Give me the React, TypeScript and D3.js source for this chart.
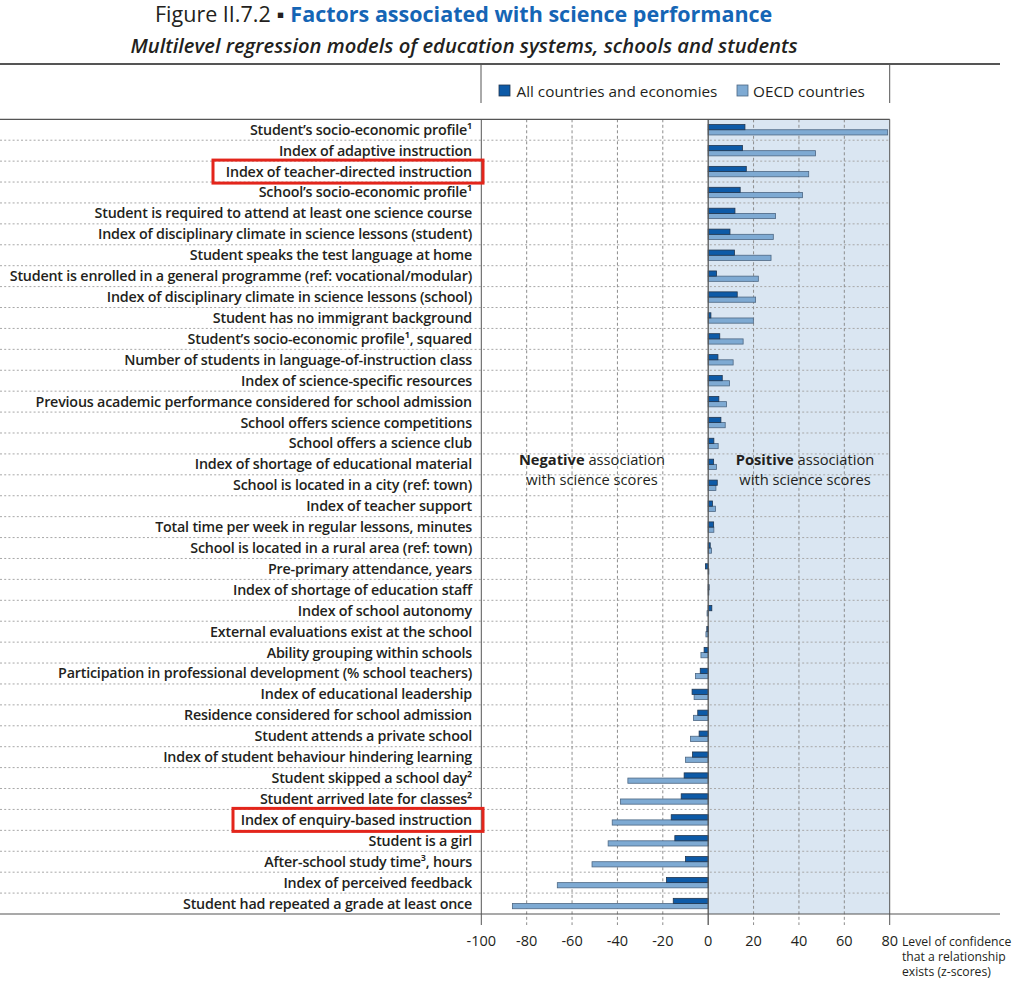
import React from "react";
import * as d3 from "d3";

const categories: string[] = [
  "Student’s socio-economic profile¹",
  "Index of adaptive instruction",
  "Index of teacher-directed instruction",
  "School’s socio-economic profile¹",
  "Student is required to attend at least one science course",
  "Index of disciplinary climate in science lessons (student)",
  "Student speaks the test language at home",
  "Student is enrolled in a general programme (ref: vocational/modular)",
  "Index of disciplinary climate in science lessons (school)",
  "Student has no immigrant background",
  "Student’s socio-economic profile¹, squared",
  "Number of students in language-of-instruction class",
  "Index of science-specific resources",
  "Previous academic performance considered for school admission",
  "School offers science competitions",
  "School offers a science club",
  "Index of shortage of educational material",
  "School is located in a city (ref: town)",
  "Index of teacher support",
  "Total time per week in regular lessons, minutes",
  "School is located in a rural area (ref: town)",
  "Pre-primary attendance, years",
  "Index of shortage of education staff",
  "Index of school autonomy",
  "External evaluations exist at the school",
  "Ability grouping within schools",
  "Participation in professional development (% school teachers)",
  "Index of educational leadership",
  "Residence considered for school admission",
  "Student attends a private school",
  "Index of student behaviour hindering learning",
  "Student skipped a school day²",
  "Student arrived late for classes²",
  "Index of enquiry-based instruction",
  "Student is a girl",
  "After-school study time³, hours",
  "Index of perceived feedback",
  "Student had repeated a grade at least once",
];

const allCountries: number[] = [
  16.2, 15.1, 16.8, 14.1, 11.8, 9.6, 11.6, 3.7, 12.8, 1.2,
  5.1, 4.3, 6.2, 4.7, 5.6, 2.5, 2.4, 4.0, 1.9, 2.4,
  0.9, -1.2, 0.4, 1.6, -0.6, -1.8, -3.5, -7.1, -4.6, -4.0,
  -6.9, -10.6, -11.9, -16.3, -14.7, -10.0, -18.4, -15.4,
];

const oecdCountries: number[] = [
  79.1, 47.3, 44.3, 41.6, 29.7, 28.7, 27.7, 22.1, 20.9, 19.9,
  15.4, 11.0, 9.4, 8.1, 7.5, 4.4, 3.7, 3.4, 3.2, 2.5,
  1.5, 0.3, 0.3, -0.5, -1.0, -3.2, -5.6, -6.2, -6.5, -7.8,
  -10.0, -35.4, -38.7, -42.3, -44.1, -51.2, -66.5, -86.3,
];

const xTicks: number[] = [-100, -80, -60, -40, -20, 0, 20, 40, 60, 80];
const highlighted: string[] = [
  "Index of teacher-directed instruction",
  "Index of enquiry-based instruction",
];
const axisTitleLines: string[] = ["Level of confidence", "that a relationship", "exists (z-scores)"];

const W = 1024;
const H = 981;
const FONT = "'Open Sans', 'Noto Sans', sans-serif";
const DARK = "#0d5aa7";
const DARK_STROKE = "#21364f";
const LIGHT = "#7eaad3";
const LIGHT_STROKE = "#4d6783";
const GRID = "#8c8c8c";
const AXIS = "#555555";
const TEXT = "#231f20";

export default function App() {
  const x = d3.scaleLinear().domain([-100, 80]).range([481.3, 889.7]);
  const y = d3.scaleBand<string>().domain(categories).range([119.3, 914]).paddingInner(0).paddingOuter(0);
  const bw = y.bandwidth();
  const top = 119.3;
  const bottom = 914;
  const x0 = x(0);
  const barH = 5.2;

  return (
    <svg width={W} height={H} style={{ position: "absolute", left: 0, top: 0, display: "block", fontFamily: FONT }}>
      <rect width={W} height={H} fill="#ffffff" />
      {/* Title */}
      <text x={155} y={22} fontSize={21.5} fill={TEXT}>
        <tspan fontWeight={400}>Figure II.7.2</tspan>
        <tspan dx={6} fontWeight={700} fill={TEXT}>▪</tspan>
        <tspan dx={6} fontWeight={700} fill="#1565b5">Factors associated with science performance</tspan>
      </text>
      <text x={464} y={53} textAnchor="middle" fontSize={20.2} fontStyle="italic" fontWeight={600} fill={TEXT}>
        Multilevel regression models of education systems, schools and students
      </text>

      {/* top rule and legend box */}
      <line x1={0} x2={1000} y1={64} y2={64} stroke="#555" strokeWidth={2} />
      <line x1={481} x2={481} y1={64} y2={103} stroke={AXIS} strokeWidth={1} />
      <line x1={889.7} x2={889.7} y1={64} y2={103} stroke={AXIS} strokeWidth={1} />
      <rect x={499} y={85} width={11} height={11} fill={DARK} stroke={DARK_STROKE} strokeWidth={0.8} />
      <text x={516.5} y={96.5} fontSize={15.3} fill={TEXT}>All countries and economies</text>
      <rect x={737} y={85} width={11} height={11} fill={LIGHT} stroke={LIGHT_STROKE} strokeWidth={0.8} />
      <text x={753} y={96.5} fontSize={15.3} fill={TEXT}>OECD countries</text>

      {/* positive region shading */}
      <rect x={x0} y={top} width={x(80) - x0} height={bottom - top} fill="#dae6f2" />

      {/* row separators */}
      {categories.slice(1).map((c) => (
        <line key={"sep" + c} x1={0} x2={889.7} y1={(y(c) as number)} y2={(y(c) as number)}
          stroke="#a8a8a8" strokeWidth={1} strokeDasharray="2,2.2" />
      ))}

      {/* vertical gridlines */}
      {xTicks.filter((t) => t !== -100 && t !== 0 && t !== 80).map((t) => (
        <line key={"g" + t} x1={x(t)} x2={x(t)} y1={top} y2={bottom + 11}
          stroke={GRID} strokeWidth={1} strokeDasharray="3,2.5" />
      ))}

      {/* annotations */}
      <text x={592} y={465} textAnchor="middle" fontSize={14.7} fill={TEXT}>
        <tspan fontWeight={700}>Negative</tspan> association
      </text>
      <text x={592} y={485} textAnchor="middle" fontSize={14.7} fill={TEXT}>with science scores</text>
      <text x={805} y={465} textAnchor="middle" fontSize={14.7} fill={TEXT}>
        <tspan fontWeight={700}>Positive</tspan> association
      </text>
      <text x={805} y={485} textAnchor="middle" fontSize={14.7} fill={TEXT}>with science scores</text>

      {/* bars */}
      {categories.map((c, i) => {
        const cy = (y(c) as number) + bw / 2;
        const a = allCountries[i];
        const o = oecdCountries[i];
        return (
          <g key={"b" + c}>
            <rect x={Math.min(x(o), x0)} y={cy} width={Math.max(Math.abs(x(o) - x0), 0.6)} height={barH}
              fill={LIGHT} stroke={LIGHT_STROKE} strokeWidth={0.8} />
            <rect x={Math.min(x(a), x0)} y={cy - barH} width={Math.max(Math.abs(x(a) - x0), 0.6)} height={barH}
              fill={DARK} stroke={DARK_STROKE} strokeWidth={0.8} />
          </g>
        );
      })}

      {/* frame lines */}
      <line x1={0} x2={889.7} y1={top} y2={top} stroke={AXIS} strokeWidth={1.2} />
      <line x1={481.3} x2={481.3} y1={top} y2={bottom + 11} stroke={AXIS} strokeWidth={1} />
      <line x1={x0} x2={x0} y1={top} y2={bottom + 11} stroke={AXIS} strokeWidth={1.3} />
      <line x1={889.7} x2={889.7} y1={top} y2={bottom + 11} stroke={AXIS} strokeWidth={1} />
      <line x1={0} x2={1000} y1={bottom} y2={bottom} stroke={AXIS} strokeWidth={1.2} />

      {/* tick labels */}
      {xTicks.map((t) => (
        <text key={"t" + t} x={x(t)} y={946} textAnchor="middle" fontSize={14.5} fill={TEXT}>{t}</text>
      ))}
      {axisTitleLines.map((s, i) => (
        <text key={"at" + i} x={902} y={946 + i * 15} fontSize={12.2} fill={TEXT}>{s}</text>
      ))}

      {/* category labels */}
      {categories.map((c) => {
        const cy = (y(c) as number) + bw / 2;
        return (
          <text key={"l" + c} x={472} y={cy + 5} textAnchor="end" fontSize={14.3} fontWeight={600} fill={TEXT} letterSpacing={-0.2}>
            {c}
          </text>
        );
      })}

      {/* highlight boxes */}
      {highlighted.map((c) => {
        const cy = (y(c) as number) + bw / 2;
        const w = c.length > 35 ? 270 : 250;
        return (
          <rect key={"h" + c} x={483 - w} y={cy - 11.5} width={w} height={23}
            fill="none" stroke="#e3251b" strokeWidth={3} />
        );
      })}
    </svg>
  );
}
